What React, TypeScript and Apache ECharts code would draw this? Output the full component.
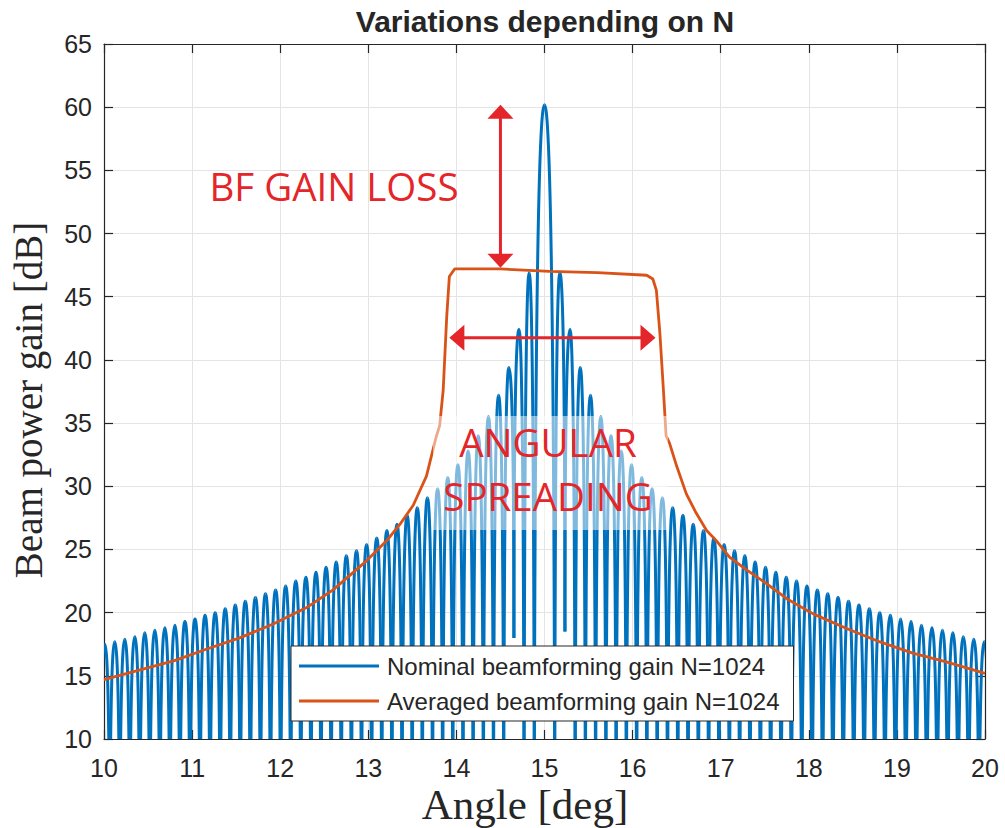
import React, { useEffect, useRef } from "react";
import * as echarts from "echarts";

// ---- Nominal beamforming gain (N=1024): lobe peaks and nulls ----
const mainLobe = { angle: 15.0, gain: 60.2 };

const leftNullAngles = [
  14.884, 14.768, 14.653, 14.537, 14.421, 14.306, 14.19, 14.075, 13.959, 13.844,
  13.729, 13.613, 13.498, 13.383, 13.268, 13.153, 13.038, 12.923, 12.808, 12.693,
  12.578, 12.463, 12.349, 12.234, 12.119, 12.005, 11.89, 11.776, 11.661, 11.547,
  11.433, 11.319, 11.204, 11.09, 10.976, 10.862, 10.748, 10.634, 10.52, 10.406,
  10.293, 10.179, 10.065, 9.952,
];
const leftNullGains = [
  -5, -5, 18, -5, -5, -5, -5, -5, -5, -5,
  -5, -5, -5, -5, -5, -5, -5, -5, -5, -5,
  -5, -5, -5, -5, -5, -5, -5, -5, -5, -5,
  -5, -5, -5, -5, -5, -5, -5, -5, -5, -5,
  -5, -5, -5, -5,
];
const leftPeakAngles = [
  14.826, 14.711, 14.595, 14.479, 14.364, 14.248, 14.133, 14.017, 13.902, 13.787,
  13.671, 13.556, 13.441, 13.326, 13.211, 13.096, 12.981, 12.866, 12.751, 12.636,
  12.521, 12.406, 12.292, 12.177, 12.062, 11.948, 11.833, 11.719, 11.604, 11.49,
  11.376, 11.262, 11.147, 11.033, 10.919, 10.805, 10.691, 10.577, 10.463, 10.35,
  10.236, 10.122, 10.009,
];
const leftPeakGains = [
  46.9, 42.4, 39.4, 37.2, 35.5, 34.0, 32.8, 31.7, 30.7, 29.8,
  29.1, 28.3, 27.7, 27.0, 26.5, 25.9, 25.4, 24.9, 24.5, 24.0,
  23.6, 23.2, 22.8, 22.5, 22.1, 21.8, 21.5, 21.2, 20.9, 20.6,
  20.3, 20.0, 19.8, 19.5, 19.3, 19.0, 18.8, 18.6, 18.4, 18.1,
  17.9, 17.7, 17.5,
];

const rightNullAngles = [
  15.116, 15.232, 15.348, 15.464, 15.58, 15.697, 15.813, 15.929, 16.046, 16.162,
  16.279, 16.396, 16.513, 16.629, 16.746, 16.863, 16.98, 17.098, 17.215, 17.332,
  17.45, 17.567, 17.685, 17.802, 17.92, 18.038, 18.156, 18.273, 18.391, 18.51,
  18.628, 18.746, 18.864, 18.983, 19.101, 19.22, 19.338, 19.457, 19.576, 19.694,
  19.813, 19.932, 20.051,
];
const rightNullGains = [
  -5, 18.5, -5, -5, -5, -5, -5, -5, -5, -5,
  -5, -5, -5, -5, -5, -5, -5, -5, -5, -5,
  -5, -5, -5, -5, -5, -5, -5, -5, -5, -5,
  -5, -5, -5, -5, -5, -5, -5, -5, -5, -5,
  -5, -5, -5,
];
const rightPeakAngles = [
  15.174, 15.29, 15.406, 15.522, 15.639, 15.755, 15.871, 15.988, 16.104, 16.221,
  16.338, 16.455, 16.571, 16.688, 16.805, 16.922, 17.039, 17.157, 17.274, 17.391,
  17.509, 17.626, 17.744, 17.861, 17.979, 18.097, 18.215, 18.332, 18.451, 18.569,
  18.687, 18.805, 18.924, 19.042, 19.161, 19.279, 19.398, 19.517, 19.635, 19.754,
  19.873, 19.992,
];
const rightPeakGains = [
  46.9, 42.4, 39.4, 37.2, 35.5, 34.0, 32.8, 31.7, 30.7, 29.8,
  29.1, 28.3, 27.7, 27.0, 26.5, 25.9, 25.4, 24.9, 24.5, 24.0,
  23.6, 23.2, 22.8, 22.5, 22.1, 21.8, 21.5, 21.2, 20.9, 20.6,
  20.3, 20.0, 19.8, 19.5, 19.3, 19.0, 18.8, 18.6, 18.4, 18.1,
  17.9, 17.7,
];

// ---- Averaged beamforming gain (N=1024) ----
const avgAngles = [
  10.0, 10.4, 10.8, 11.16, 11.54, 11.92, 12.3, 12.6, 12.98, 13.21,
  13.36, 13.51, 13.66, 13.77, 13.81, 13.85, 13.89, 13.92, 13.98, 14.5,
  15.06, 15.6, 16.16, 16.23, 16.27, 16.31, 16.35, 16.38, 16.42, 16.5,
  16.61, 16.72, 16.84, 16.95, 17.1, 17.29, 17.52, 17.75, 18.05, 18.43,
  18.8, 19.18, 19.56, 20.0,
];
const avgGains = [
  14.7, 15.45, 16.2, 17.1, 18.0, 19.1, 20.4, 21.8, 24.1, 25.7,
  27.0, 28.5, 30.8, 33.9, 34.8, 37.6, 43.4, 46.6, 47.2, 47.2,
  47.0, 46.9, 46.7, 46.4, 45.5, 42.1, 37.6, 34.0, 33.4, 31.6,
  29.4, 27.9, 26.5, 25.7, 24.4, 23.4, 22.3, 21.1, 19.9, 18.75,
  17.7, 16.8, 16.1, 15.2,
];

// ---- Annotations (data coordinates) ----
const gainLossArrow = { angle: 14.5, top: 60.2, bottom: 47.3 };
const spreadArrow = { gain: 41.75, from: 13.92, to: 16.26 };

const seriesNames = ["Nominal beamforming gain N=1024", "Averaged beamforming gain N=1024"];
const RED = "#e4252a";
const AXIS = "#262626";
const BLUE = "#0072BD";
const ORANGE = "#D95319";

// one item per lobe: [leftNullAngle, peakAngle, rightNullAngle, peakGain, leftNullGain, rightNullGain]
function buildLobes(): number[][] {
  const lobes: number[][] = [];
  for (let k = leftPeakAngles.length - 1; k >= 0; k--) {
    lobes.push([
      leftNullAngles[k + 1], leftPeakAngles[k], leftNullAngles[k],
      leftPeakGains[k], leftNullGains[k + 1], leftNullGains[k],
    ]);
  }
  lobes.push([
    leftNullAngles[0], mainLobe.angle, rightNullAngles[0],
    mainLobe.gain, leftNullGains[0], rightNullGains[0],
  ]);
  for (let k = 0; k < rightPeakAngles.length; k++) {
    lobes.push([
      rightNullAngles[k], rightPeakAngles[k], rightNullAngles[k + 1],
      rightPeakGains[k], rightNullGains[k], rightNullGains[k + 1],
    ]);
  }
  return lobes;
}

export default function App() {
  const ref = useRef<HTMLDivElement>(null);
  useEffect(() => {
    if (!ref.current) return;
    const chart = echarts.init(ref.current, undefined, { renderer: "svg" });
    const tickFont = { fontSize: 25, color: AXIS, fontFamily: "'Liberation Sans', Arial, sans-serif" };
    const axisCommon = {
      type: "value" as const,
      axisLine: { show: true, lineStyle: { color: AXIS, width: 1.2 } },
      axisTick: { show: true, inside: true, length: 9, lineStyle: { color: AXIS, width: 1.2 } },
    };
    const lobes = buildLobes();
    const averaged = avgAngles.map((a, i) => [a, avgGains[i]]);

    const renderLobe = (_params: any, api: any) => {
      const l = api.coord([api.value(0), api.value(4)]);
      const p = api.coord([api.value(1), api.value(3)]);
      const r = api.coord([api.value(2), api.value(5)]);
      const half = (n: number[]) => ({
        type: "bezierCurve",
        shape: {
          x1: p[0],
          y1: p[1],
          cpx1: p[0] + 0.55 * (n[0] - p[0]),
          cpy1: p[1],
          cpx2: n[0],
          cpy2: p[1] + 0.25 * (n[1] - p[1]),
          x2: n[0],
          y2: n[1],
        },
        style: { stroke: BLUE, lineWidth: 3, fill: "none" },
      });
      return { type: "group", children: [half(l), half(r)] };
    };

    chart.setOption({
      animation: false,
      backgroundColor: "#ffffff",
      grid: { left: 104, top: 44, width: 881, height: 695, containLabel: false },
      xAxis: [
        {
          ...axisCommon,
          position: "bottom",
          min: 10,
          max: 20,
          interval: 1,
          axisLabel: { ...tickFont, margin: 16 },
          splitLine: { show: true, lineStyle: { color: "#e4e4e4", width: 1 } },
        },
        {
          ...axisCommon,
          position: "top",
          min: 10,
          max: 20,
          interval: 1,
          axisLabel: { show: false },
          splitLine: { show: false },
        },
      ],
      yAxis: [
        {
          ...axisCommon,
          position: "left",
          min: 10,
          max: 65,
          interval: 5,
          axisLabel: { ...tickFont, margin: 12 },
          splitLine: { show: true, lineStyle: { color: "#e4e4e4", width: 1 } },
        },
        {
          ...axisCommon,
          position: "right",
          min: 10,
          max: 65,
          interval: 5,
          axisLabel: { show: false },
          splitLine: { show: false },
        },
      ],
      legend: {
        orient: "vertical",
        left: 291,
        top: 646,
        itemWidth: 80,
        itemHeight: 3,
        itemGap: 11,
        icon: "rect",
        padding: [8, 14, 8, 8],
        backgroundColor: "#ffffff",
        borderColor: AXIS,
        borderWidth: 1,
        data: seriesNames,
        textStyle: {
          fontSize: 24,
          lineHeight: 24,
          color: AXIS,
          fontFamily: "'Liberation Sans', Arial, sans-serif",
          padding: [0, 0, 0, 3],
        },
      },
      series: [
        {
          name: seriesNames[0],
          type: "custom",
          data: lobes,
          encode: { x: [0, 1, 2], y: [3, 4, 5] },
          renderItem: renderLobe,
          clip: true,
          itemStyle: { color: BLUE },
          z: 2,
        },
        {
          name: seriesNames[1],
          type: "line",
          data: averaged,
          symbol: "none",
          clip: true,
          lineStyle: { color: ORANGE, width: 2.8 },
          itemStyle: { color: ORANGE },
          z: 3,
        },
      ],
    });

    const px = (x: number, y: number) => chart.convertToPixel({ gridIndex: 0 }, [x, y]) as number[];
    const vTop = px(gainLossArrow.angle, gainLossArrow.top);
    const vBot = px(gainLossArrow.angle, gainLossArrow.bottom);
    const hL = px(spreadArrow.from, spreadArrow.gain);
    const hR = px(spreadArrow.to, spreadArrow.gain);
    const head = 14;
    const half = 13;
    const annotFont = "'Open Sans', 'Liberation Sans', sans-serif";

    chart.setOption({
      graphic: [
        {
          type: "text",
          x: 545,
          y: 21,
          z: 20,
          style: {
            text: "Variations depending on N",
            fontSize: 30,
            fontWeight: "bold",
            fontFamily: "'Liberation Sans', Arial, sans-serif",
            fill: "#262626",
            align: "center",
            verticalAlign: "middle",
          },
        },
        {
          type: "text",
          x: 28,
          y: 400,
          rotation: Math.PI / 2,
          z: 20,
          style: {
            text: "Beam power gain [dB]",
            fontSize: 39,
            fontFamily: "'Liberation Serif', 'Times New Roman', serif",
            fill: "#262626",
            align: "center",
            verticalAlign: "middle",
          },
        },
        {
          type: "text",
          x: 525,
          y: 804,
          z: 20,
          style: {
            text: "Angle [deg]",
            fontSize: 43,
            fontFamily: "'Liberation Serif', 'Times New Roman', serif",
            fill: "#262626",
            align: "center",
            verticalAlign: "middle",
          },
        },
        {
          type: "rect",
          z: 30,
          shape: { x: 433, y: 416, width: 235, height: 114 },
          style: { fill: "rgba(255,255,255,0.5)" },
        },
        {
          type: "text",
          x: 334,
          y: 186,
          z: 31,
          style: { text: "BF GAIN LOSS", fontSize: 38.5, fontFamily: annotFont, fill: RED, align: "center", verticalAlign: "middle" },
        },
        {
          type: "text",
          x: 548,
          y: 442,
          z: 31,
          style: { text: "ANGULAR", fontSize: 38.5, fontFamily: annotFont, fill: RED, align: "center", verticalAlign: "middle" },
        },
        {
          type: "text",
          x: 548,
          y: 496,
          z: 31,
          style: { text: "SPREADING", fontSize: 38.5, fontFamily: annotFont, fill: RED, align: "center", verticalAlign: "middle" },
        },
        {
          type: "line",
          z: 31,
          shape: { x1: vTop[0], y1: vTop[1] + head - 2, x2: vBot[0], y2: vBot[1] - head + 2 },
          style: { stroke: RED, lineWidth: 3 },
        },
        {
          type: "polygon",
          z: 31,
          shape: { points: [[vTop[0], vTop[1]], [vTop[0] - half, vTop[1] + head], [vTop[0] + half, vTop[1] + head]] },
          style: { fill: RED },
        },
        {
          type: "polygon",
          z: 31,
          shape: { points: [[vBot[0], vBot[1]], [vBot[0] - half, vBot[1] - head], [vBot[0] + half, vBot[1] - head]] },
          style: { fill: RED },
        },
        {
          type: "line",
          z: 31,
          shape: { x1: hL[0] + head - 2, y1: hL[1], x2: hR[0] - head + 2, y2: hR[1] },
          style: { stroke: RED, lineWidth: 3 },
        },
        {
          type: "polygon",
          z: 31,
          shape: { points: [[hL[0], hL[1]], [hL[0] + head + 1, hL[1] - half], [hL[0] + head + 1, hL[1] + half]] },
          style: { fill: RED },
        },
        {
          type: "polygon",
          z: 31,
          shape: { points: [[hR[0], hR[1]], [hR[0] - head - 1, hR[1] - half], [hR[0] - head - 1, hR[1] + half]] },
          style: { fill: RED },
        },
      ],
    });

    return () => chart.dispose();
  }, []);

  return (
    <div
      ref={ref}
      style={{ position: "absolute", left: 0, top: 0, width: 1005, height: 828, background: "#fff" }}
    />
  );
}
